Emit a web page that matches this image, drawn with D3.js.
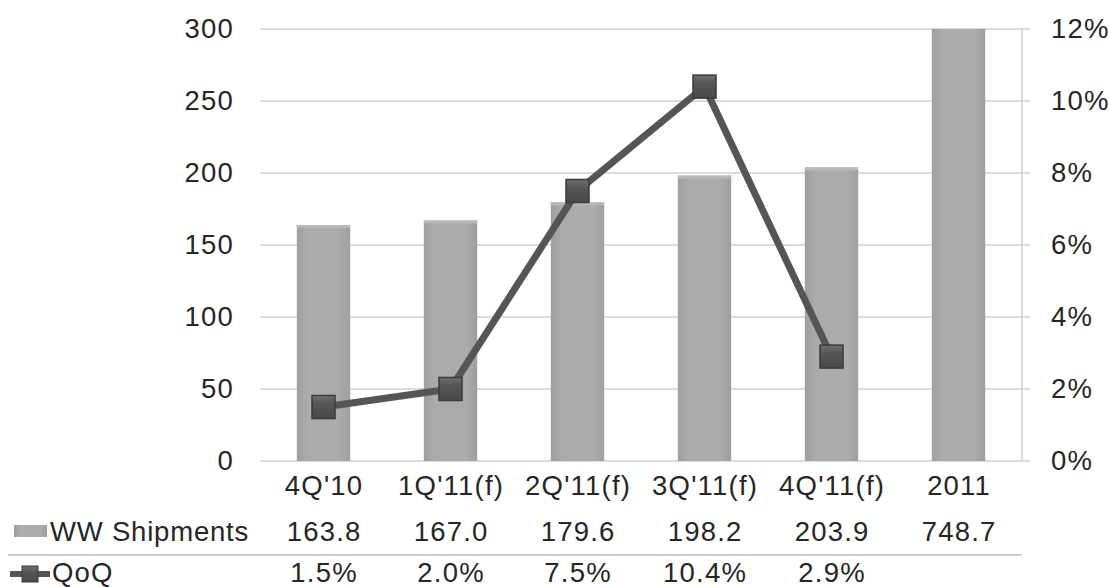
<!DOCTYPE html>
<html><head><meta charset="utf-8">
<script src="https://cdn.jsdelivr.net/npm/d3@7"></script>
<style>
html,body{margin:0;padding:0;background:#fff;}
svg{display:block;font-family:"Liberation Sans",Arial,sans-serif;}
</style></head>
<body>
<script>
const categories = ["4Q'10","1Q'11(f)","2Q'11(f)","3Q'11(f)","4Q'11(f)","2011"];
const shipments = [163.8,167.0,179.6,198.2,203.9,748.7];
const qoq = [0.015,0.020,0.075,0.104,0.029,null];
const shipmentLabels = ["163.8","167.0","179.6","198.2","203.9","748.7"];
const qoqLabels = ["1.5%","2.0%","7.5%","10.4%","2.9%",""];
const leftTicks = [0,50,100,150,200,250,300];
const rightTicks = [0,0.02,0.04,0.06,0.08,0.10,0.12];
const seriesNames = ["WW Shipments","QoQ"];

const W=1110,H=587;
const L=260,R=1022,T=29,B=461;
const FS=27.5, LS=1.2;
const txt="#262626";

const svg=d3.select("body").append("svg").attr("width",W).attr("height",H);
const defs=svg.append("defs");
const g1=defs.append("linearGradient").attr("id","barg").attr("x1","0").attr("x2","1").attr("y1","0").attr("y2","0");
g1.append("stop").attr("offset","0").attr("stop-color","#9e9e9e");
g1.append("stop").attr("offset","0.2").attr("stop-color","#ababab");
g1.append("stop").attr("offset","0.8").attr("stop-color","#ababab");
g1.append("stop").attr("offset","1").attr("stop-color","#9e9e9e");
const g2=defs.append("linearGradient").attr("id","mkg").attr("x1","0").attr("x2","0").attr("y1","0").attr("y2","1");
g2.append("stop").attr("offset","0").attr("stop-color","#707070");
g2.append("stop").attr("offset","0.35").attr("stop-color","#565656");
g2.append("stop").attr("offset","1").attr("stop-color","#4a4a4a");
defs.append("clipPath").attr("id","plotclip").append("rect").attr("x",L).attr("y",T).attr("width",R-L).attr("height",B-T);

const x=d3.scaleBand().domain(categories).range([L,R]).paddingInner(0.58).paddingOuter(0.29);
const yL=d3.scaleLinear().domain([0,300]).range([B,T]);
const yR=d3.scaleLinear().domain([0,0.12]).range([B,T]);

function styleText(sel){ sel.attr("font-size",FS).attr("fill",txt).attr("letter-spacing",LS).attr("font-family","Liberation Sans, Arial, sans-serif"); }

// gridlines
svg.append("g").selectAll("line").data(leftTicks).join("line")
  .attr("x1",L).attr("x2",R+8).attr("y1",d=>yL(d)).attr("y2",d=>yL(d))
  .attr("stroke","#cfcfcf").attr("stroke-width",1.5);
svg.append("line").attr("x1",R).attr("x2",R).attr("y1",T).attr("y2",B).attr("stroke","#cfcfcf").attr("stroke-width",1.5);

const la=d3.axisLeft(yL).tickValues(leftTicks).tickSize(0).tickPadding(0).tickFormat(d3.format("d"));
const lag=svg.append("g").attr("transform",`translate(${L-26},0)`).call(la);
lag.select(".domain").remove();
lag.selectAll("text").call(styleText);

const ra=d3.axisRight(yR).tickValues(rightTicks).tickSize(0).tickPadding(0).tickFormat(d3.format(".0%"));
const rag=svg.append("g").attr("transform",`translate(${R+29},0)`).call(ra);
rag.select(".domain").remove();
rag.selectAll("text").call(styleText);

// bars
svg.append("g").attr("clip-path","url(#plotclip)").selectAll("rect").data(categories).join("rect")
  .attr("x",d=>x(d)).attr("width",x.bandwidth())
  .attr("y",(d,i)=>yL(shipments[i])).attr("height",(d,i)=>B-yL(shipments[i]))
  .attr("fill","url(#barg)");
svg.append("g").attr("clip-path","url(#plotclip)").selectAll("rect").data(categories).join("rect")
  .attr("x",d=>x(d)).attr("width",x.bandwidth())
  .attr("y",(d,i)=>yL(shipments[i])).attr("height",3)
  .attr("fill","#b8b8b8");

// line
const pts=categories.map((c,i)=>({c,v:qoq[i]})).filter(d=>d.v!=null);
const line=d3.line().x(d=>x(d.c)+x.bandwidth()/2).y(d=>yR(d.v));
svg.append("path").datum(pts).attr("d",line).attr("fill","none").attr("stroke","#555").attr("stroke-width",7).attr("stroke-linejoin","round");
const ms=23;
svg.append("g").selectAll("rect").data(pts).join("rect")
  .attr("x",d=>x(d.c)+x.bandwidth()/2-ms/2).attr("y",d=>yR(d.v)-ms/2)
  .attr("width",ms).attr("height",ms).attr("fill","url(#mkg)").attr("stroke","#3a3a3a").attr("stroke-width",1.5);

// table
const colX=d=>x(d)+x.bandwidth()/2+LS/2;
svg.append("g").selectAll("text").data(categories).join("text")
  .attr("x",colX).attr("y",495).attr("text-anchor","middle").call(styleText).text(d=>d);
svg.append("g").selectAll("text").data(categories).join("text")
  .attr("x",colX).attr("y",541).attr("text-anchor","middle").call(styleText).text((d,i)=>shipmentLabels[i]);
svg.append("g").selectAll("text").data(categories).join("text")
  .attr("x",colX).attr("y",582).attr("text-anchor","middle").call(styleText).text((d,i)=>qoqLabels[i]);
svg.append("line").attr("x1",8).attr("x2",R).attr("y1",555).attr("y2",555).attr("stroke","#bdbdbd").attr("stroke-width",1.5);

// legend
svg.append("rect").attr("x",14).attr("y",525).attr("width",33).attr("height",12).attr("fill","url(#barg)");
svg.append("text").attr("x",50).attr("y",541).call(styleText).attr("letter-spacing",0.8).text(seriesNames[0]);
svg.append("line").attr("x1",10).attr("x2",50).attr("y1",574).attr("y2",574).attr("stroke","#555").attr("stroke-width",6);
svg.append("rect").attr("x",22).attr("y",566).attr("width",16).attr("height",16).attr("fill","url(#mkg)").attr("stroke","#3a3a3a");
svg.append("text").attr("x",52).attr("y",582).call(styleText).text(seriesNames[1]);
</script>
</body></html>
